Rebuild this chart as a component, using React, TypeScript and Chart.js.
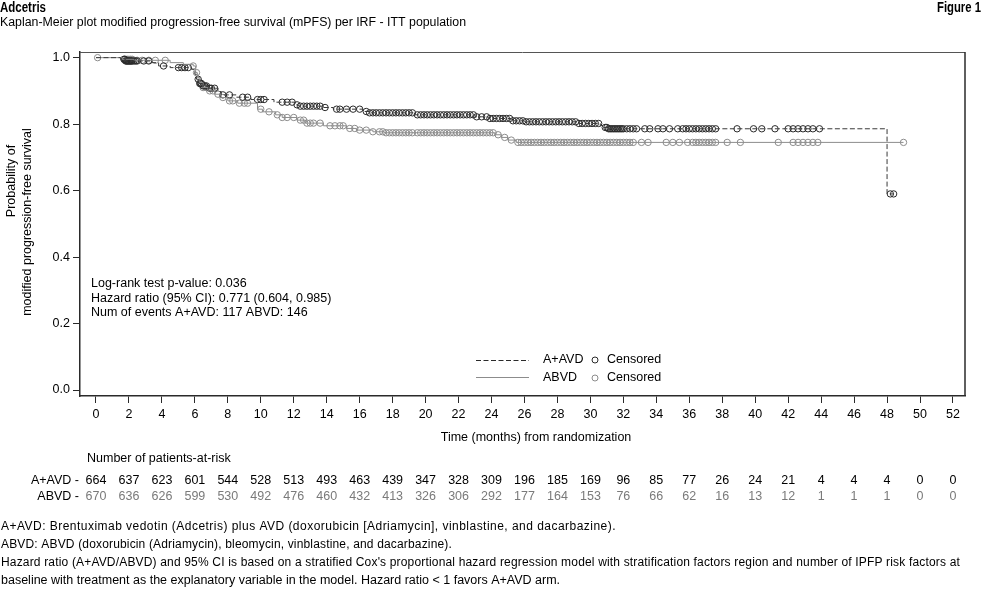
import React, { useEffect, useRef } from 'react';
import { Chart, registerables } from 'chart.js';

Chart.register(...registerables);

const FONT = "'Liberation Sans', Arial, sans-serif";

// ---------- data ----------
const xTicks = [0, 2, 4, 6, 8, 10, 12, 14, 16, 18, 20, 22, 24, 26, 28, 30, 32, 34, 36, 38, 40, 42, 44, 46, 48, 50, 52];
const yTicks = [0, 0.2, 0.4, 0.6, 0.8, 1.0];

// A+AVD Kaplan-Meier steps (time in months, survival after step)
const aavdStepTimes = [0, 1.5, 1.8, 3.3, 3.8, 4.5, 5.8, 6.0, 6.1, 6.25, 6.45, 6.8, 7.4, 7.6, 8.5, 9.4, 10.8, 12.1, 12.3, 13.8, 14.4, 16.2, 16.6, 19.3, 23.0, 23.8, 25.2, 26.0, 29.3, 30.6, 30.8, 31.1, 48.0];
const aavdStepSurv = [1.0, 0.995, 0.99, 0.985, 0.975, 0.97, 0.965, 0.95, 0.935, 0.922, 0.915, 0.908, 0.898, 0.888, 0.881, 0.874, 0.866, 0.858, 0.854, 0.85, 0.845, 0.838, 0.834, 0.828, 0.822, 0.817, 0.81, 0.807, 0.802, 0.796, 0.79, 0.786, 0.59];
const aavdEndTime = 48.4;

// ABVD Kaplan-Meier steps
const abvdStepTimes = [0, 1.6, 2.3, 4.5, 5.3, 5.9, 6.05, 6.15, 6.3, 6.5, 6.8, 7.2, 7.6, 8.0, 8.6, 9.8, 10.1, 10.9, 11.3, 12.2, 12.7, 13.8, 15.2, 15.8, 16.8, 17.5, 24.2, 24.6, 25.0, 25.5];
const abvdStepSurv = [1.0, 0.995, 0.992, 0.985, 0.98, 0.975, 0.955, 0.94, 0.925, 0.91, 0.9, 0.89, 0.88, 0.87, 0.863, 0.845, 0.837, 0.828, 0.82, 0.812, 0.803, 0.795, 0.787, 0.782, 0.777, 0.774, 0.768, 0.76, 0.752, 0.745];
const abvdEndTime = 49.0;

// censoring times (months)
const aavdCensorTimes = [
  1.7, 1.75, 1.8, 1.85, 1.9, 1.95, 2.0, 2.05, 2.1, 2.15, 2.2, 2.3, 2.4, 2.5, 2.9, 3.2, 4.1, 5.0, 5.2, 5.4, 5.6,
  6.2, 6.3, 6.35, 6.4, 6.5, 6.6, 6.7, 6.9, 7.0, 7.2, 7.7, 8.1, 8.9, 9.2, 9.8, 10.0, 10.2, 11.3, 11.6, 11.9,
  12.2, 12.4, 12.6, 12.8, 13.0, 13.2, 13.4, 13.6, 13.9, 14.6, 14.8, 15.2, 15.6, 16.0, 16.4, 16.6, 16.8, 17.0,
  17.2, 17.4, 17.6, 17.8, 18.0, 18.2, 18.4, 18.6, 18.8, 19.0, 19.2, 19.5, 19.7, 19.9, 20.1, 20.3, 20.5, 20.7,
  20.9, 21.1, 21.3, 21.5, 21.7, 21.9, 22.1, 22.3, 22.5, 22.7, 22.9, 23.1, 23.4, 23.7, 23.9, 24.1, 24.3, 24.5,
  24.7, 24.9, 25.1, 25.3, 25.5, 25.7, 25.9, 26.1, 26.3, 26.5, 26.7, 26.9, 27.1, 27.3, 27.5, 27.7, 27.9, 28.1,
  28.3, 28.5, 28.7, 28.9, 29.1, 29.3, 29.5, 29.7, 29.9, 30.1, 30.3, 30.5, 30.9, 31.0, 31.1, 31.2, 31.3, 31.4,
  31.5, 31.6, 31.7, 31.8, 31.9, 32.0, 32.2, 32.4, 32.6, 32.8, 33.3, 33.6, 34.1, 34.4, 34.8, 35.3, 35.6, 35.8,
  36.0, 36.2, 36.4, 36.6, 36.8, 37.0, 37.2, 37.4, 37.6, 38.9, 39.9, 40.4, 41.2, 42.0, 42.3, 42.6, 42.9, 43.2,
  43.5, 43.9, 48.2, 48.4,
];
const abvdCensorTimes = [
  0.1, 1.7, 1.8, 1.9, 2.0, 2.1, 2.2, 2.5, 2.8, 3.2, 3.6, 4.2, 5.9, 6.1, 6.3, 6.5, 6.7, 6.9, 7.1, 7.4, 7.7, 8.1,
  8.3, 8.7, 9.0, 9.2, 10.0, 10.5, 11.0, 11.3, 11.6, 12.0, 12.4, 12.6, 12.8, 13.0, 13.2, 13.6, 14.2, 14.5, 14.8,
  15.0, 15.4, 15.7, 16.0, 16.4, 16.8, 17.2, 17.4, 17.6, 17.8, 18.0, 18.2, 18.4, 18.6, 18.8, 19.0, 19.2, 19.5,
  19.7, 19.9, 20.1, 20.3, 20.5, 20.7, 20.9, 21.1, 21.3, 21.5, 21.7, 21.9, 22.1, 22.3, 22.5, 22.7, 22.9, 23.1,
  23.3, 23.5, 23.7, 23.9, 24.1, 24.4, 24.8, 25.2, 25.6, 25.8, 26.0, 26.2, 26.4, 26.6, 26.8, 27.0, 27.2, 27.4,
  27.6, 27.8, 28.0, 28.2, 28.4, 28.6, 28.8, 29.0, 29.2, 29.4, 29.6, 29.8, 30.0, 30.2, 30.4, 30.6, 30.8, 31.0,
  31.2, 31.4, 31.6, 31.8, 32.0, 32.2, 32.4, 32.6, 33.1, 33.5, 34.6, 35.0, 35.4, 35.9, 36.2, 36.4, 36.6, 36.8,
  37.0, 37.2, 37.4, 37.6, 38.3, 39.1, 41.4, 42.3, 42.6, 42.9, 43.2, 43.5, 43.8, 49.0,
];

// number at risk
const riskTimes = xTicks;
const aavdAtRisk = [664, 637, 623, 601, 544, 528, 513, 493, 463, 439, 347, 328, 309, 196, 185, 169, 96, 85, 77, 26, 24, 21, 4, 4, 4, 0, 0];
const abvdAtRisk = [670, 636, 626, 599, 530, 492, 476, 460, 432, 413, 326, 306, 292, 177, 164, 153, 76, 66, 62, 16, 13, 12, 1, 1, 1, 0, 0];

// texts
const headerTitle = 'Adcetris';
const headerFigure = 'Figure 1';
const subtitle = 'Kaplan-Meier plot modified progression-free survival (mPFS) per IRF - ITT population';
const yTitleLines = ['Probability of', 'modified progression-free survival'];
const xTitle = 'Time (months) from randomization';
const statLines = ['Log-rank test p-value: 0.036', 'Hazard ratio (95% CI): 0.771 (0.604, 0.985)', 'Num of events A+AVD: 117 ABVD: 146'];
const footnotes = [
  'A+AVD: Brentuximab vedotin (Adcetris) plus AVD (doxorubicin [Adriamycin], vinblastine, and dacarbazine).',
  'ABVD: ABVD (doxorubicin (Adriamycin), bleomycin, vinblastine, and dacarbazine).',
  "Hazard ratio (A+AVD/ABVD) and 95% CI is based on a stratified Cox's proportional hazard regression model with stratification factors region and number of IPFP risk factors at",
  'baseline with treatment as the explanatory variable in the model. Hazard ratio < 1 favors A+AVD arm.',
];

// ---------- helpers ----------
const DARK = '#2a2a2a';
const GRAY = '#8c8c8c';

function survAt(times: number[], surv: number[], t: number) {
  let s = surv[0];
  for (let i = 0; i < times.length; i++) if (times[i] <= t) s = surv[i];
  return s;
}
function lineData(times: number[], surv: number[], end: number) {
  const pts = times.map((t, i) => ({ x: t, y: surv[i] }));
  pts.push({ x: end, y: surv[surv.length - 1] });
  return pts;
}
function censorData(cens: number[], times: number[], surv: number[]) {
  return cens.map((t) => ({ x: t, y: survAt(times, surv, t) }));
}

function txt(ctx: CanvasRenderingContext2D, s: string, x: number, y: number, font: string, color: string, align: CanvasTextAlign = 'left', width?: number) {
  ctx.save();
  ctx.font = font;
  ctx.fillStyle = color;
  ctx.textAlign = align;
  ctx.textBaseline = 'middle';
  if (width) {
    const w = ctx.measureText(s).width;
    if (w > width) {
      ctx.translate(x, y);
      ctx.scale(width / w, 1);
      ctx.fillText(s, 0, 0);
    } else {
      (ctx as any).letterSpacing = `${(width - w) / s.length}px`;
      ctx.fillText(s, x, y);
    }
  } else {
    ctx.fillText(s, x, y);
  }
  ctx.restore();
}

const decorPlugin = {
  id: 'decor',
  afterDraw(chart: any) {
    const ctx: CanvasRenderingContext2D = chart.ctx;
    const { left, right, top, bottom } = chart.chartArea;
    const xs = chart.scales.x;
    const f = `12.5px ${FONT}`;
    const fb = `bold 14px ${FONT}`;
    const ff = `12px ${FONT}`;

    // frame top & right
    ctx.save();
    ctx.strokeStyle = '#555';
    ctx.lineWidth = 1;
    ctx.beginPath();
    ctx.moveTo(left, top + 0.5);
    ctx.lineTo(right, top + 0.5);
    ctx.stroke();
    ctx.strokeStyle = DARK;
    ctx.lineWidth = 1.5;
    ctx.beginPath();
    ctx.moveTo(right, top);
    ctx.lineTo(right, bottom);
    ctx.stroke();
    ctx.restore();

    // header
    txt(ctx, headerTitle, 0, 8, fb, '#000', 'left', 46);
    txt(ctx, headerFigure, 981 - 44, 8, fb, '#000', 'left', 44);
    txt(ctx, subtitle, 0, 23, f, '#000', 'left', 466);

    // y title
    ctx.save();
    ctx.translate(12, 181);
    ctx.rotate(-Math.PI / 2);
    txt(ctx, yTitleLines[0], 0, 0, f, '#000', 'center');
    ctx.restore();
    ctx.save();
    ctx.translate(28, 222);
    ctx.rotate(-Math.PI / 2);
    txt(ctx, yTitleLines[1], 0, 0, f, '#000', 'center');
    ctx.restore();

    // x title
    txt(ctx, xTitle, 536, 438, f, '#000', 'center');

    // statistics
    statLines.forEach((s, i) => txt(ctx, s, 91, 284 + i * 14.5, f, '#000'));

    // legend
    ctx.save();
    ctx.lineWidth = 1;
    ctx.strokeStyle = DARK;
    ctx.setLineDash([5, 2.5]);
    ctx.beginPath();
    ctx.moveTo(476, 360.5);
    ctx.lineTo(529, 360.5);
    ctx.stroke();
    ctx.setLineDash([]);
    ctx.strokeStyle = GRAY;
    ctx.beginPath();
    ctx.moveTo(476, 377.5);
    ctx.lineTo(529, 377.5);
    ctx.stroke();
    ctx.strokeStyle = DARK;
    ctx.beginPath();
    ctx.arc(595, 360, 3, 0, Math.PI * 2);
    ctx.stroke();
    ctx.strokeStyle = GRAY;
    ctx.beginPath();
    ctx.arc(595, 378, 3, 0, Math.PI * 2);
    ctx.stroke();
    ctx.restore();
    txt(ctx, 'A+AVD', 543, 360, f, '#000');
    txt(ctx, 'Censored', 607, 360, f, '#000');
    txt(ctx, 'ABVD', 543, 378, f, '#000');
    txt(ctx, 'Censored', 607, 378, f, '#000');

    // at-risk table
    txt(ctx, 'Number of patients-at-risk', 87, 459, f, '#000');
    txt(ctx, 'A+AVD -', 79, 481, f, '#000', 'right');
    txt(ctx, 'ABVD -', 79, 497, f, '#000', 'right');
    riskTimes.forEach((t, i) => {
      const px = xs.getPixelForValue(t);
      txt(ctx, String(aavdAtRisk[i]), px, 481, f, '#000', 'center');
      txt(ctx, String(abvdAtRisk[i]), px, 497, f, '#7a7a7a', 'center');
    });

    // footnotes
    txt(ctx, footnotes[0], 1, 527, ff, '#000', 'left', 615);
    txt(ctx, footnotes[1], 1, 544.7, ff, '#000', 'left', 451);
    txt(ctx, footnotes[2], 1, 562.4, ff, '#000', 'left', 959);
    txt(ctx, footnotes[3], 1, 580.1, `12.5px ${FONT}`, '#000', 'left');
  },
};

export default function App() {
  const ref = useRef<HTMLCanvasElement>(null);
  useEffect(() => {
    if (!ref.current) return;
    const chart = new Chart(ref.current, {
      type: 'line',
      data: {
        datasets: [
          {
            label: 'A+AVD',
            data: lineData(aavdStepTimes, aavdStepSurv, aavdEndTime),
            stepped: true,
            borderColor: '#3a3a3a',
            borderWidth: 1,
            borderDash: [5, 2.5],
            pointRadius: 0,
            fill: false,
          },
          {
            label: 'ABVD',
            data: lineData(abvdStepTimes, abvdStepSurv, abvdEndTime),
            stepped: true,
            borderColor: GRAY,
            borderWidth: 1,
            pointRadius: 0,
            fill: false,
          },
          {
            label: 'A+AVD Censored',
            data: censorData(aavdCensorTimes, aavdStepTimes, aavdStepSurv),
            showLine: false,
            pointStyle: 'circle',
            pointRadius: 3.2,
            pointBorderWidth: 1,
            pointBorderColor: DARK,
            pointBackgroundColor: 'rgba(255,255,255,0)',
          },
          {
            label: 'ABVD Censored',
            data: censorData(abvdCensorTimes, abvdStepTimes, abvdStepSurv),
            showLine: false,
            pointStyle: 'circle',
            pointRadius: 3.2,
            pointBorderWidth: 1,
            pointBorderColor: GRAY,
            pointBackgroundColor: 'rgba(255,255,255,0)',
          },
        ],
      },
      options: {
        animation: false,
        responsive: false,
        events: [],
        layout: { padding: { left: 0, top: 52, right: 18, bottom: 0 } },
        plugins: { legend: { display: false }, tooltip: { enabled: false }, title: { display: false } },
        scales: {
          x: {
            type: 'linear',
            min: -0.97,
            max: 52.73,
            afterBuildTicks: (s: any) => { s.ticks = xTicks.map((v) => ({ value: v })); },
            afterFit: (s: any) => { s.height = 589 - 396; },
            grid: { display: true, drawOnChartArea: false, drawTicks: true, tickLength: 7, color: DARK, lineWidth: 1 },
            border: { display: true, color: DARK, width: 1.5 },
            ticks: { font: { family: FONT, size: 12.5 }, color: '#000', padding: 4, maxRotation: 0, autoSkip: false, callback: (v: any) => String(v) },
          },
          y: {
            type: 'linear',
            min: -0.018,
            max: 1.017,
            afterBuildTicks: (s: any) => { s.ticks = yTicks.map((v) => ({ value: v })); },
            afterFit: (s: any) => { s.width = 80; },
            grid: { display: true, drawOnChartArea: false, drawTicks: true, tickLength: 7, color: DARK, lineWidth: 1 },
            border: { display: true, color: DARK, width: 1.5 },
            ticks: { font: { family: FONT, size: 12.5 }, color: '#000', padding: 3, autoSkip: false, callback: (v: any) => Number(v).toFixed(1) },
          },
        },
      },
      plugins: [decorPlugin],
    } as any);
    return () => chart.destroy();
  }, []);
  return (
    <div style={{ position: 'absolute', left: 0, top: 0, width: 983, height: 589, background: '#fff' }}>
      <canvas ref={ref} width={983} height={589} style={{ display: 'block', width: 983, height: 589 }} />
    </div>
  );
}
